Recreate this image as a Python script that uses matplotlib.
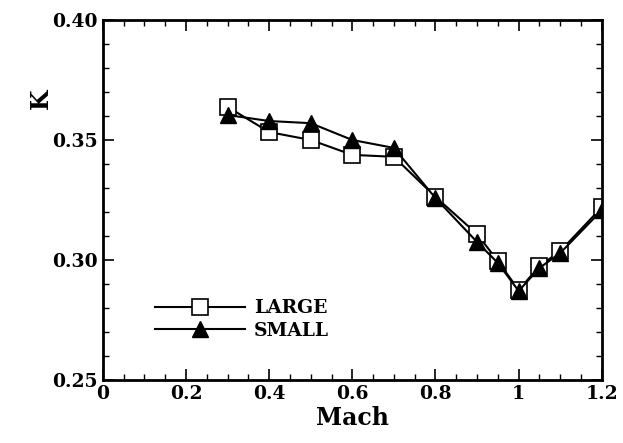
import matplotlib.pyplot as plt
from matplotlib.ticker import MultipleLocator, FormatStrFormatter

mach = [0.3, 0.4, 0.5, 0.6, 0.7, 0.8, 0.9, 0.95, 1.0, 1.05, 1.1, 1.2]
k_large = [0.3638, 0.3533, 0.3500, 0.3438, 0.3430, 0.3263, 0.3108, 0.2996, 0.2875, 0.2975, 0.3037, 0.3220]
k_small = [0.3604, 0.3579, 0.3570, 0.3500, 0.3467, 0.3258, 0.3075, 0.2988, 0.2871, 0.2967, 0.3029, 0.3208]

plt.rcParams['font.family'] = ['DejaVu Serif']
plt.rcParams['font.weight'] = 'bold'

fig = plt.figure(figsize=(6.23, 4.43), dpi=100)
ax = fig.add_axes([0.165, 0.142, 0.801, 0.813])

ax.plot(mach, k_large, color='black', lw=1.5, marker='s', markersize=11,
        markerfacecolor='white', markeredgecolor='black', markeredgewidth=1.2,
        label='LARGE')
ax.plot(mach, k_small, color='black', lw=1.5, marker='^', markersize=11,
        markerfacecolor='black', markeredgecolor='black', label='SMALL')

ax.set_xlim(0, 1.2)
ax.set_ylim(0.25, 0.40)
ax.xaxis.set_major_locator(MultipleLocator(0.2))
ax.xaxis.set_minor_locator(MultipleLocator(0.05))
ax.yaxis.set_major_locator(MultipleLocator(0.05))
ax.yaxis.set_minor_locator(MultipleLocator(0.01))
ax.yaxis.set_major_formatter(FormatStrFormatter('%.2f'))
ax.set_xticks([0, 0.2, 0.4, 0.6, 0.8, 1.0, 1.2])
ax.set_xticklabels(['0', '0.2', '0.4', '0.6', '0.8', '1', '1.2'])

ax.tick_params(which='both', direction='in', top=True, right=True, labelsize=13.5)
ax.tick_params(which='major', length=8, width=1.2)
ax.tick_params(which='minor', length=4, width=1)
for s in ax.spines.values():
    s.set_linewidth(2)

ax.set_xlabel('Mach', fontsize=17, fontweight='bold', labelpad=2)
ax.set_ylabel('K', fontsize=17, fontweight='bold')
ax.yaxis.set_label_coords(-0.1, 0.78)

ax.legend(loc='lower left', bbox_to_anchor=(0.07, 0.065), frameon=False,
          handlelength=4.8, fontsize=13.5, labelspacing=0.25, handletextpad=0.5)

fig.savefig('out.png', dpi=100)
